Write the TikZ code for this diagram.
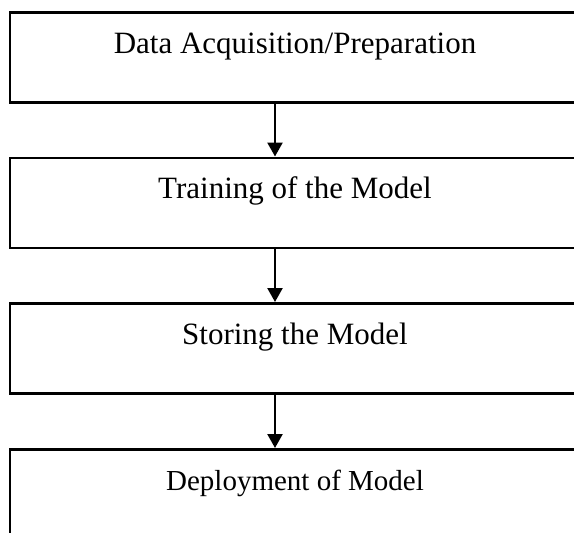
\documentclass[tikz,border=0pt]{standalone}
\usepackage{fontspec}
\setmainfont{Liberation Serif}
\usetikzlibrary{arrows.meta}
\begin{document}
\begin{tikzpicture}[x=1pt,y=-1pt,
    fase/.style={draw,line width=2.6pt,rectangle,anchor=north,
      minimum width=570pt,minimum height=90pt,
      text height=22pt,text depth=30pt,
      font=\fontsize{31}{36}\selectfont},
    freccia/.style={line width=2.4pt,-{Triangle[length=14pt,width=15pt]}}]
            \clip (0,0) rectangle (574,533);

            % Blocco 1
            \node[fase] (acq) at (295,11) {Data Acquisition/Preparation};

            % Blocco 2
            \node[fase] (train) at (295,156.5) {Training of the Model};

            % Blocco 3
            \node[fase] (store) at (295,302) {Storing the Model};

            % Blocco 4
            \node[fase,minimum height=120pt,text depth=60pt,
              font=\fontsize{29}{34}\selectfont] (deploy) at (295,448) {Deployment of Model};

            % Frecce
            \draw[freccia] ([xshift=-20pt]acq.south) -- ([xshift=-20pt]train.north);
            \draw[freccia] ([xshift=-20pt]train.south) -- ([xshift=-20pt]store.north);
            \draw[freccia] ([xshift=-20pt]store.south) -- ([xshift=-20pt]deploy.north);
        \end{tikzpicture}
\end{document}
